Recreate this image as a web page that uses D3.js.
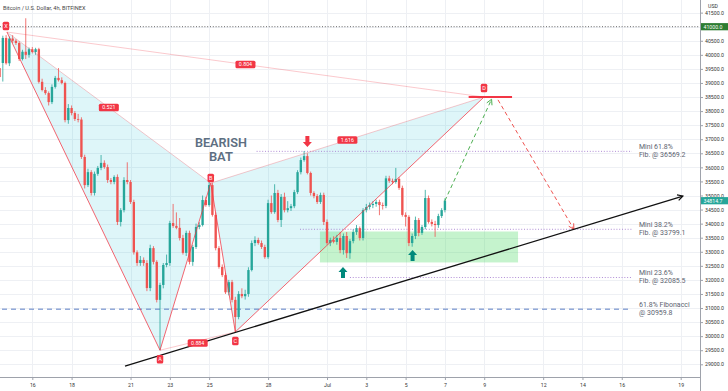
<!DOCTYPE html>
<html><head><meta charset="utf-8">
<script src="https://cdn.jsdelivr.net/npm/d3@7"></script>
<style>body{margin:0;background:#fff;} svg{display:block;font-family:Roboto,"Liberation Sans",sans-serif;}</style>
</head><body><svg id="c" width="728" height="391"></svg>
<script>
// ---------- DATA ----------
const title = "Bitcoin / U.S. Dollar, 4h, BITFINEX";
const currency = "USD";
const firstBar = "2021-06-14T08:00Z";   // 4h bars
const open  = [39530,39710,40600,39700,40580,40500,40420,39850,40110,40000,40200,40100,40200,39040,38750,38640,38320,38860,39180,39100,
  39000,37680,38110,37930,37720,37700,36370,35370,35830,35090,35770,35980,36160,36010,35550,35480,35660,34060,34480,35550,
  35480,34770,32980,32600,32710,32600,31710,33130,32640,31290,31820,32530,32600,34020,33920,33850,33490,32960,33670,32640,
  33170,33880,33950,34840,34660,35370,34310,33130,32460,32170,31560,31920,31290,30680,31500,31420,31500,32350,33310,33420,
  33310,33170,32810,34730,34410,35090,34130,34950,34480,34550,34620,35120,35830,36260,36400,35800,35090,34980,34770,35020,
  34060,33310,33420,33350,33490,33060,33560,32950,33380,33700,33840,33490,34480,34590,34660,34700,34770,34660,34630,35610,
  35520,35480,35590,35270,34310,34240,33310,33560,34130,33670,33880,34910,34060,33990,33950,34270,34480];
const high  = [39600,40680,40700,40650,40700,40560,40480,40180,41300,40260,40280,40250,40250,39150,38850,38700,38950,39250,39530,39200,
  39050,38250,38200,38000,37900,37780,36450,35950,35900,35850,36050,36440,36250,36100,35620,35720,35750,34550,35650,36180,
  35550,34850,33050,32850,32800,32700,33250,33200,32700,31900,32600,32900,34100,34700,34400,34200,33600,33750,33750,33250,
  34000,34050,35000,34950,35480,35450,34400,33200,32550,32250,32000,32000,31400,31600,31700,31650,32450,33400,33550,33500,
  33400,33250,34850,35000,35400,35200,35050,35100,34800,34700,35200,35900,36350,36580,36500,35850,35150,35050,35100,35100,
  34150,33500,33550,33600,33700,33650,33700,33450,33800,33950,33900,34550,34700,34750,34800,34850,34850,34750,35700,35700,
  35600,35980,35650,35350,34400,34300,33650,34250,34200,33950,35200,35000,34150,34100,34350,34550,34900];
const low   = [39100,39050,39650,39600,40420,40350,39780,39800,39850,39900,40050,40000,38980,38700,38580,38200,38250,38800,39050,38950,
  37600,37550,37850,37650,37600,36300,35250,35300,35000,35000,35700,35900,35950,35450,35400,35400,33950,33900,34400,35400,
  34700,32900,32500,32500,32500,31600,31600,32550,31200,29500,31700,32450,32500,33850,33800,33400,32900,32850,32550,32500,
  33100,33800,33900,34600,34600,34250,33050,32400,32100,31500,31450,31200,30150,30600,31350,31300,31400,32300,33200,33250,
  33100,32750,32750,34350,34350,34050,33880,34400,34400,34450,34550,35050,35750,36200,35750,35000,34900,34700,34700,33950,
  33250,33200,33300,33250,32950,32900,32780,32750,33300,33600,33400,33400,34400,34500,34550,34600,34300,34500,34550,35450,
  35400,35420,35200,34250,33900,33200,33180,33450,33550,33600,33800,34000,33900,33530,33850,34200,34400];
const close = [39210,40600,39700,40580,40500,40420,39850,40110,40000,40200,40100,40200,39040,38750,38640,38320,38860,39180,39100,39000,
  37680,38110,37930,37720,37700,36370,35370,35830,35090,35770,35980,36160,36010,35550,35480,35660,34060,34480,35550,35480,
  34770,32980,32600,32710,32600,31710,33130,32640,31290,31820,32530,32600,34020,33920,33850,33490,32960,33670,32640,33170,
  33880,33950,34840,34660,35370,34310,33130,32460,32170,31560,31920,31290,30680,31500,31420,31500,32350,33310,33420,33310,
  33170,32810,34730,34410,35090,34130,34950,34480,34550,34620,35120,35830,36260,36400,35800,35090,34980,34770,35020,34060,
  33310,33420,33350,33490,33060,33560,32950,33380,33700,33840,33490,34480,34590,34660,34700,34770,34660,34630,35610,35520,
  35480,35590,35270,34310,34240,33310,33560,34130,33670,33880,34910,34060,33990,33950,34270,34480,34815];
const lastPrice = 34814.7;
const keyLevel = 41000;

const priceTicks = d3.range(29000, 41501, 500);
const dateTicks = ["2021-06-16","2021-06-18","2021-06-21","2021-06-23","2021-06-25","2021-06-28","2021-07-01",
  "2021-07-03","2021-07-05","2021-07-07","2021-07-09","2021-07-12","2021-07-14","2021-07-16","2021-07-19"];
const dateTickLabels = ["16","18","21","23","25","28","Jul","3","5","7","9","12","14","16","19"];

const patternNames  = ["X","A","B","C","D"];
const patternTimes  = ["2021-06-14T17:00Z","2021-06-22T12:00Z","2021-06-25T02:00Z","2021-06-26T08:00Z","2021-07-08T23:45Z"];
const patternPrices = [40810, 29500, 35440, 30150, 38500];
const ratioPairs  = [[0,2],[1,3],[2,4],[0,4]];
const ratioLabels = ["0.521","0.884","1.616","0.804"];

const fibLevels = [36569.2, 33799.1, 32085.5, 30959.8];
const fibStart  = ["2021-06-27T10:00Z","2021-06-29T15:00Z","2021-07-02T04:00Z","2021-06-14T00:00Z"];
const fibEnd    = "2021-07-16T12:30Z";
const fibText   = [["Mini 61.8%","Fib. @ 36569.2"],["Mini 38.2%","Fib. @ 33799.1"],["Mini 23.6%","Fib. @ 32085.5"],["61.8% Fibonacci","@ 30959.8"]];

const zoneTimes  = ["2021-06-30T15:20Z","2021-07-10T17:20Z"];
const zonePrices = [33720, 32620];

const trendTimes  = ["2021-06-20T17:12Z","2021-07-19T02:40Z"];
const trendPrices = [28938, 34981];

const bullPathTimes  = ["2021-07-07T00:00Z","2021-07-09T09:00Z"];
const bullPathPrices = [34815, 38420];
const bearPathTimes  = ["2021-07-09T16:50Z","2021-07-13T13:30Z"];
const bearPathPrices = [38400, 33799];
const dLineTimes = ["2021-07-08T05:00Z","2021-07-10T10:00Z"];

const arrowTimes  = ["2021-06-30T00:00Z","2021-07-01T19:30Z","2021-07-05T08:30Z"];
const arrowPrices = [36723, 32455, 33060];
const arrowDirs   = ["down","up","up"];

const noteText = ["BEARISH","BAT"];
const noteTime = "2021-06-25T14:24Z";
const notePrices = [36723, 36230];

// ---------- CHART ----------
const svg = d3.select("#c");
const PW = 700, PH = 377;
const T = s => new Date(s);
const x = d3.scaleUtc().domain([T("2021-06-16T00:00Z"), T("2021-07-19T00:00Z")]).range([32.3, 680.7]);
const y = d3.scaleLinear().domain([29000, 41000]).range([364.3, 26.7]);
const barMs = 4*3600e3;
const t0 = T(firstBar).getTime();
const bars = close.map((c,i)=>({t:new Date(t0+i*barMs), o:open[i], h:high[i], l:low[i], c}));
const bw = (x(new Date(t0+barMs)) - x(new Date(t0))) * 0.72;

svg.append("rect").attr("width",728).attr("height",391).attr("fill","#fff");
svg.append("defs").append("clipPath").attr("id","pc").append("rect").attr("width",PW).attr("height",PH);

// grid
const grid = svg.append("g").attr("stroke","#eef0f4").attr("stroke-width",1);
priceTicks.forEach(p=>grid.append("line").attr("x1",0).attr("x2",PW).attr("y1",Math.round(y(p))+0.5).attr("y2",Math.round(y(p))+0.5));
dateTicks.forEach(d=>grid.append("line").attr("y1",0).attr("y2",PH).attr("x1",Math.round(x(T(d+"T00:00Z")))+0.5).attr("x2",Math.round(x(T(d+"T00:00Z")))+0.5));

const plot = svg.append("g").attr("clip-path","url(#pc)");
const P = i => [x(T(patternTimes[i])), y(patternPrices[i])];

// pattern fills
const fillCol = "rgba(0,188,212,0.13)";
plot.append("path").attr("d", d3.line()([P(0),P(1),P(2)])+"Z").attr("fill",fillCol);
plot.append("path").attr("d", d3.line()([P(2),P(3),P(4)])+"Z").attr("fill",fillCol);

// green zone
plot.append("rect")
  .attr("x", x(T(zoneTimes[0]))).attr("width", x(T(zoneTimes[1]))-x(T(zoneTimes[0])))
  .attr("y", y(zonePrices[0])).attr("height", y(zonePrices[1])-y(zonePrices[0]))
  .attr("fill","rgba(76,217,100,0.32)");

// key level 41000 dotted
plot.append("line").attr("x1",0).attr("x2",PW).attr("y1",y(keyLevel)).attr("y2",y(keyLevel))
  .attr("stroke","#555").attr("stroke-width",0.9).attr("stroke-dasharray","1,1.8");

// fib lines
fibLevels.forEach((f,i)=>{
  const last = i===3;
  plot.append("line").attr("x1",x(T(fibStart[i]))).attr("x2",x(T(fibEnd)))
    .attr("y1",y(f)).attr("y2",y(f))
    .attr("stroke", last ? "#5b7fc4" : "#a77fd0")
    .attr("stroke-width", last ? 1 : 0.9)
    .attr("stroke-dasharray", last ? "5,4" : "1,1.8");
});

// candles
const up="#26a69a", dn="#ef5350";
const cg = plot.append("g");
bars.forEach(b=>{
  const col = b.c>=b.o ? up : dn;
  const cx = x(b.t);
  cg.append("line").attr("x1",cx).attr("x2",cx).attr("y1",y(b.h)).attr("y2",y(b.l)).attr("stroke",col).attr("stroke-width",0.8);
  const yt = y(Math.max(b.o,b.c)), yb = y(Math.min(b.o,b.c));
  cg.append("rect").attr("x",cx-bw/2).attr("width",bw).attr("y",yt).attr("height",Math.max(0.8,yb-yt)).attr("fill",col);
});

// pattern lines
const red = "#f23645";
const ln = (a,b,stroke,w,op)=>plot.append("line").attr("x1",a[0]).attr("y1",a[1]).attr("x2",b[0]).attr("y2",b[1])
  .attr("stroke",stroke).attr("stroke-width",w).attr("stroke-opacity",op);
ln(P(0),P(1),red,0.9,0.85); ln(P(1),P(2),red,0.9,0.85); ln(P(2),P(3),red,0.9,0.85); ln(P(3),P(4),red,0.9,0.85);
ratioPairs.forEach(([a,b])=>ln(P(a),P(b),red,0.9,0.3));

// trend line
const tA=[x(T(trendTimes[0])),y(trendPrices[0])], tB=[x(T(trendTimes[1])),y(trendPrices[1])];
svg.append("line").attr("x1",tA[0]).attr("y1",tA[1]).attr("x2",tB[0]).attr("y2",tB[1]).attr("stroke","#111").attr("stroke-width",1.3);
function arrowHead(g, a, b, col, w){
  const ang = Math.atan2(b[1]-a[1], b[0]-a[0]), L=6, s=0.5;
  const p1=[b[0]-L*Math.cos(ang-s), b[1]-L*Math.sin(ang-s)], p2=[b[0]-L*Math.cos(ang+s), b[1]-L*Math.sin(ang+s)];
  g.append("path").attr("d",d3.line()([p1,b,p2])).attr("fill","none").attr("stroke",col).attr("stroke-width",w);
}
arrowHead(svg, tA, tB, "#111", 1.2);

// projection paths
const gA=[x(T(bullPathTimes[0])),y(bullPathPrices[0])], gB=[x(T(bullPathTimes[1])),y(bullPathPrices[1])];
plot.append("line").attr("x1",gA[0]).attr("y1",gA[1]).attr("x2",gB[0]).attr("y2",gB[1]).attr("stroke","#4caf50").attr("stroke-width",1).attr("stroke-dasharray","4,3");
arrowHead(plot, gA, gB, "#4caf50", 1);
const rA=[x(T(bearPathTimes[0])),y(bearPathPrices[0])], rB=[x(T(bearPathTimes[1])),y(bearPathPrices[1])];
plot.append("line").attr("x1",rA[0]).attr("y1",rA[1]).attr("x2",rB[0]).attr("y2",rB[1]).attr("stroke","#ef5350").attr("stroke-width",1).attr("stroke-dasharray","4,3");
arrowHead(plot, rA, rB, "#ef5350", 1);

// D level line
plot.append("line").attr("x1",x(T(dLineTimes[0]))).attr("x2",x(T(dLineTimes[1])))
  .attr("y1",y(patternPrices[4])).attr("y2",y(patternPrices[4])).attr("stroke",red).attr("stroke-width",2);

// tags
function tag(cx, cy, text, w, h, fill, fs){
  const g = svg.append("g");
  g.append("rect").attr("x",cx-w/2).attr("y",cy-h/2).attr("width",w).attr("height",h).attr("rx",1.5).attr("fill",fill);
  g.append("text").attr("x",cx).attr("y",cy).attr("dy","0.36em").attr("text-anchor","middle")
    .attr("fill","#fff").attr("font-size",fs).text(text);
}
ratioPairs.forEach(([a,b],i)=>{
  const m=[(P(a)[0]+P(b)[0])/2,(P(a)[1]+P(b)[1])/2];
  tag(m[0], m[1]+(i===1?2:0), ratioLabels[i], 20, 7.5, red, 5.3);
});
const offs = [-6,9,-5,9,-9];
patternNames.forEach((n,i)=>{ const p=P(i); tag(p[0]+(i===0?-1:0), p[1]+offs[i], n, 6.5, 8.5, red, 5.5); });

// block arrows
arrowDirs.forEach((d,i)=>{
  const cx = x(T(arrowTimes[i])), ty = y(arrowPrices[i]);
  const s = d==="down" ? -1 : 1;
  const pts = [[cx,ty],[cx+4.5,ty+5*s],[cx+2,ty+5*s],[cx+2,ty+11*s],[cx-2,ty+11*s],[cx-2,ty+5*s],[cx-4.5,ty+5*s]];
  svg.append("path").attr("d",d3.line()(pts)+"Z").attr("fill", d==="down" ? "#f23645" : "#00897b");
});

// note text
noteText.forEach((t,i)=>{
  svg.append("text").attr("x",x(T(noteTime))).attr("y",y(notePrices[i])).attr("text-anchor","middle")
    .attr("font-size",12.5).attr("font-weight",600).attr("fill","#5d6f82")
    .attr("textLength", i===0?52:24).attr("lengthAdjust","spacingAndGlyphs").text(t);
});

// fib labels
fibText.forEach((lines,i)=>{
  const yy = y(fibLevels[i]);
  lines.forEach((t,j)=>svg.append("text").attr("x",639).attr("y",yy-2+j*8).attr("font-size",7)
    .attr("fill","#5c6370").text(t));
});

// axes
svg.append("line").attr("x1",PW+0.5).attr("x2",PW+0.5).attr("y1",0).attr("y2",391).attr("stroke","#9ea2ab").attr("stroke-width",1);
svg.append("line").attr("x1",0).attr("x2",PW).attr("y1",PH+0.5).attr("y2",PH+0.5).attr("stroke","#9ea2ab").attr("stroke-width",1);
const ya = svg.append("g").attr("transform",`translate(${PW+0.5},0)`)
  .call(d3.axisRight(y).tickValues(priceTicks).tickSize(2.5).tickPadding(2).tickFormat(d=>d.toFixed(1)));
ya.select(".domain").remove();
ya.selectAll("text").attr("font-size",5.2).attr("fill","#333").attr("font-family","Roboto,sans-serif");
ya.selectAll("line").attr("stroke","#9ea2ab");
const xa = svg.append("g").attr("transform",`translate(0,${PH+0.5})`)
  .call(d3.axisBottom(x).tickValues(dateTicks.map(d=>T(d+"T00:00Z"))).tickSize(2.5).tickPadding(3)
    .tickFormat((d,i)=>dateTickLabels[i]));
xa.select(".domain").remove();
xa.selectAll("text").attr("font-size",5.2).attr("fill","#333").attr("font-family","Roboto,sans-serif");
xa.selectAll("line").attr("stroke","#9ea2ab");

svg.append("text").attr("x",713).attr("y",8).attr("text-anchor","middle").attr("font-size",5.2).attr("fill","#333").text(currency);

// price boxes
function priceBox(p, fill){
  svg.append("rect").attr("x",PW+1).attr("y",y(p)-3.6).attr("width",27).attr("height",7.2).attr("fill",fill);
  svg.append("text").attr("x",PW+3.5).attr("y",y(p)).attr("dy","0.36em").attr("font-size",5.2).attr("fill","#fff").text(p.toFixed(1));
}
priceBox(keyLevel, "#2e7d32");
priceBox(lastPrice, "#26a69a");

// title
svg.append("text").attr("x",3).attr("y",9.5).attr("font-size",5.6).attr("fill","#444").text(title);
</script></body></html>
